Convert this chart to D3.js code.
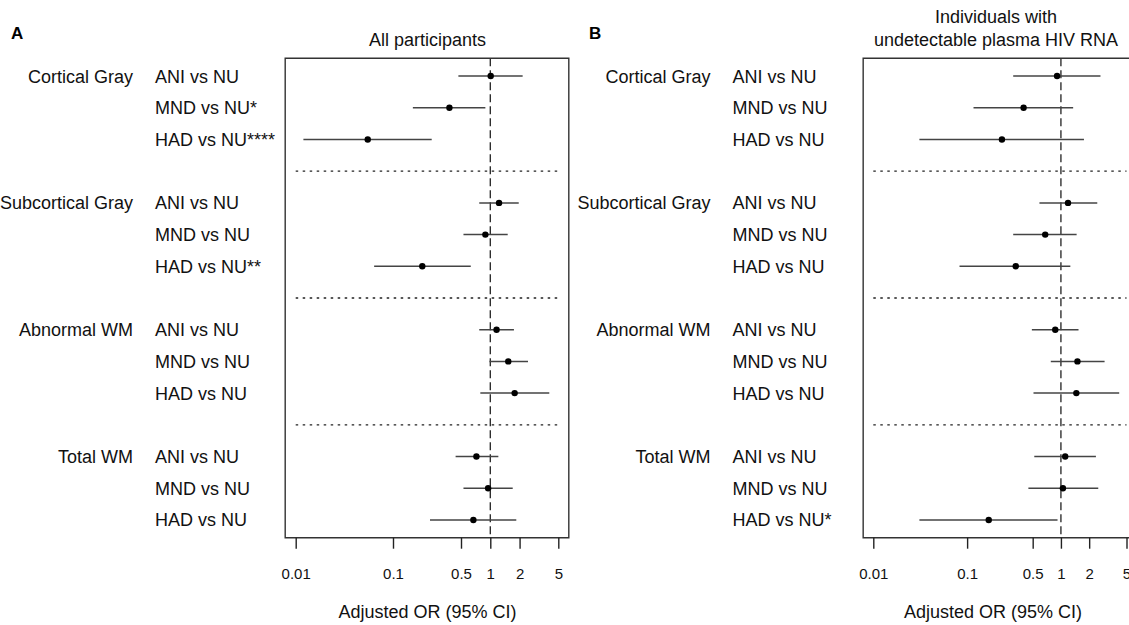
<!DOCTYPE html>
<html>
<head>
<meta charset="utf-8">
<script src="https://cdn.jsdelivr.net/npm/d3@7"></script>
<style>
  html, body { margin: 0; padding: 0; background: #fff; }
  svg { display: block; font-family: "Liberation Sans", Arial, Helvetica, sans-serif; }
</style>
</head>
<body>
<svg id="chart" width="1129" height="625"></svg>
<script>
// ---- data ----
const groups = ["Cortical Gray", "Subcortical Gray", "Abnormal WM", "Total WM"];
const labelsA = ["ANI vs NU", "MND vs NU*", "HAD vs NU****",
                 "ANI vs NU", "MND vs NU", "HAD vs NU**",
                 "ANI vs NU", "MND vs NU", "HAD vs NU",
                 "ANI vs NU", "MND vs NU", "HAD vs NU"];
const labelsB = ["ANI vs NU", "MND vs NU", "HAD vs NU",
                 "ANI vs NU", "MND vs NU", "HAD vs NU",
                 "ANI vs NU", "MND vs NU", "HAD vs NU",
                 "ANI vs NU", "MND vs NU", "HAD vs NU*"];
const orA   = [1.01, 0.38, 0.055, 1.23, 0.89, 0.20, 1.16, 1.53, 1.78, 0.72, 0.95, 0.67];
const lowA  = [0.47, 0.16, 0.012, 0.77, 0.53, 0.064, 0.77, 0.98, 0.79, 0.44, 0.53, 0.24];
const highA = [2.15, 0.89, 0.25, 1.96, 1.51, 0.63, 1.75, 2.44, 4.04, 1.21, 1.70, 1.85];
const orB   = [0.91, 0.40, 0.235, 1.19, 0.68, 0.33, 0.87, 1.50, 1.46, 1.11, 1.05, 0.17];
const lowB  = [0.31, 0.117, 0.031, 0.59, 0.31, 0.083, 0.49, 0.78, 0.51, 0.52, 0.45, 0.031];
const highB = [2.64, 1.35, 1.76, 2.44, 1.47, 1.26, 1.54, 2.92, 4.18, 2.36, 2.50, 0.92];
const tickValues = [0.01, 0.1, 0.5, 1, 2, 5];
const tickLabels = ["0.01", "0.1", "0.5", "1", "2", "5"];
const titleA = ["All participants"];
const titleB = ["Individuals with", "undetectable plasma HIV RNA"];
const axisTitle = "Adjusted OR (95% CI)";

// ---- layout ----
const svg = d3.select("#chart");
const boxTop = 58.3, boxBottom = 537.7;
const slotH = (boxBottom - boxTop) / 15.12;
const y = d3.scaleLinear().domain([0, 14]).range([boxTop + 0.56 * slotH, boxTop + 0.56 * slotH + 14 * slotH]);

const panels = [
  { letter: "A", letterX: 11, range: [295.7, 558.3], groupRight: 133, compLeft: 155,
    labels: labelsA, or: orA, low: lowA, high: highA, title: titleA, titleCx: 427.5, axisCx: 427.5 },
  { letter: "B", letterX: 589, range: [873.3, 1126.5], groupRight: 710.6, compLeft: 732.6,
    labels: labelsB, or: orB, low: lowB, high: highB, title: titleB, titleCx: 996, axisCx: 993 }
];

panels.forEach(p => {
  const x = d3.scaleLog().domain([0.01, 5]).range(p.range);
  const span = p.range[1] - p.range[0];
  const boxL = p.range[0] - 0.04 * span, boxR = p.range[1] + 0.04 * span;
  const g = svg.append("g");

  // panel letter
  g.append("text").attr("x", p.letterX).attr("y", 39)
    .attr("font-size", 17).attr("font-weight", "bold").text(p.letter);

  // title
  const nT = p.title.length;
  p.title.forEach((t, i) => {
    g.append("text").attr("x", p.titleCx).attr("y", 46 - (nT - 1 - i) * 23)
      .attr("text-anchor", "middle").attr("font-size", 18).attr("fill", "#111").text(t);
  });

  // separators (dotted)
  [3, 7, 11].forEach(s => {
    g.append("line").attr("x1", x(0.01)).attr("x2", x(5))
      .attr("y1", y(s)).attr("y2", y(s))
      .attr("stroke", "#222").attr("stroke-width", 1.3).attr("stroke-dasharray", "2.5,4.5");
  });

  // reference line at OR = 1
  g.append("line").attr("x1", x(1)).attr("x2", x(1))
    .attr("y1", boxTop).attr("y2", boxBottom)
    .attr("stroke", "#222").attr("stroke-width", 1.3).attr("stroke-dasharray", "8,4");

  // rows
  p.or.forEach((v, k) => {
    const gi = Math.floor(k / 3), ci = k % 3;
    const slot = gi * 4 + ci;
    const yy = y(slot);
    g.append("line").attr("x1", x(p.low[k])).attr("x2", x(p.high[k]))
      .attr("y1", yy).attr("y2", yy).attr("stroke", "#444").attr("stroke-width", 1.5);
    g.append("circle").attr("cx", x(v)).attr("cy", yy).attr("r", 3.2).attr("fill", "#000");
    g.append("text").attr("x", p.compLeft).attr("y", yy + 6.5)
      .attr("font-size", 18).attr("fill", "#111").text(p.labels[k]);
    if (ci === 0) {
      g.append("text").attr("x", p.groupRight).attr("y", yy + 6.5)
        .attr("text-anchor", "end").attr("font-size", 18).attr("fill", "#111").text(groups[gi]);
    }
  });

  // box
  g.append("path")
    .attr("d", `M${boxL},${boxTop}H${boxR}V${boxBottom}H${boxL}Z`)
    .attr("fill", "none").attr("stroke", "#333").attr("stroke-width", 1.4);

  // axis
  const axis = d3.axisBottom(x).tickValues(tickValues)
    .tickFormat((d, i) => tickLabels[i]).tickSize(11).tickSizeOuter(0).tickPadding(19.5);
  const ag = g.append("g").attr("transform", `translate(0,${boxBottom})`).call(axis);
  ag.select(".domain").remove();
  ag.selectAll(".tick line").attr("stroke", "#222").attr("stroke-width", 1.4);
  ag.selectAll(".tick text").attr("font-size", 15).attr("fill", "#111")
    .attr("font-family", "Liberation Sans, Arial, sans-serif");

  // axis title
  g.append("text").attr("x", p.axisCx).attr("y", 618)
    .attr("text-anchor", "middle").attr("font-size", 18).attr("fill", "#111").text(axisTitle);
});
</script>
</body>
</html>
